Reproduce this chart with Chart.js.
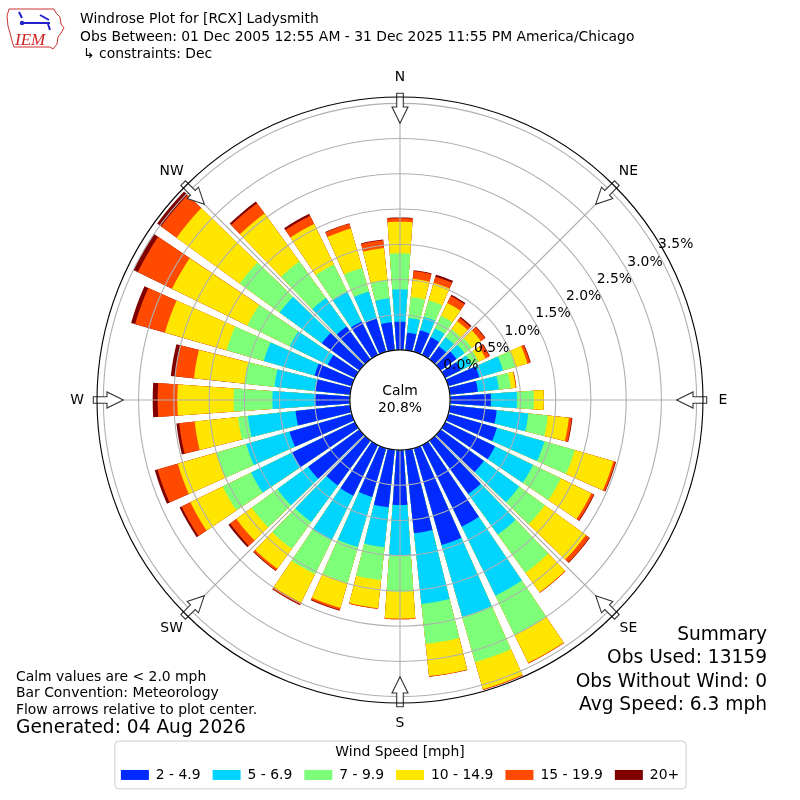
<!DOCTYPE html>
<html>
<head>
<meta charset="utf-8">
<title>Windrose Plot for [RCX] Ladysmith</title>
<script src="https://cdn.jsdelivr.net/npm/chart.js@4.4.1/dist/chart.umd.min.js"></script>
<style>
  html, body { margin: 0; padding: 0; background: #ffffff; }
  #myChart { display: block; }
</style>
</head>
<body>
<canvas id="myChart" width="800" height="800"></canvas>
<script>
// bar directions, degrees the wind blows from
const directions = [0, 10, 20, 30, 40, 50, 60, 70, 80, 90, 100, 110, 120, 130, 140, 150, 160, 170,
    180, 190, 200, 210, 220, 230, 240, 250, 260, 270, 280, 290, 300, 310, 320, 330, 340, 350];

const speedBins = ["2 - 4.9", "5 - 6.9", "7 - 9.9", "10 - 14.9", "15 - 19.9", "20+"];
const binColors = ["#002aff", "#00d4ff", "#7dff7a", "#ffe600", "#ff4a00", "#800000"];

// percent of observations per direction, one list per speed bin
const speed2to5 = [0.40, 0.25, 0.32, 0.28, 0.23, 0.28, 0.25, 0.46, 0.40, 0.58, 0.67, 0.72, 0.79, 0.76, 0.94, 1.29, 1.43, 1.19,
    0.78, 0.82, 0.72, 0.80, 0.79, 0.90, 0.99, 0.92, 0.78, 0.49, 0.50, 0.55, 0.43, 0.66, 0.58, 0.53, 0.49, 0.40];
const speed5to7 = [0.46, 0.21, 0.20, 0.14, 0.16, 0.14, 0.17, 0.35, 0.30, 0.37, 0.45, 0.70, 0.60, 0.62, 0.71, 1.09, 1.06, 1.01,
    0.71, 0.57, 0.74, 0.70, 0.64, 0.54, 0.65, 0.64, 0.68, 0.61, 0.58, 0.75, 0.60, 0.74, 0.50, 0.47, 0.40, 0.34];
const speed7to10 = [0.51, 0.30, 0.24, 0.20, 0.14, 0.13, 0.11, 0.18, 0.17, 0.24, 0.28, 0.45, 0.44, 0.45, 0.67, 0.62, 0.67, 0.57,
    0.52, 0.47, 0.53, 0.54, 0.47, 0.45, 0.45, 0.44, 0.14, 0.55, 0.43, 0.55, 0.67, 0.70, 0.64, 0.43, 0.35, 0.26];
const speed10to15 = [0.45, 0.26, 0.26, 0.20, 0.14, 0.16, 0.11, 0.18, 0.07, 0.14, 0.30, 0.57, 0.48, 0.72, 0.34, 0.44, 0.40, 0.46,
    0.38, 0.40, 0.37, 0.45, 0.35, 0.27, 0.51, 0.57, 0.62, 0.80, 0.72, 0.91, 1.19, 1.11, 0.84, 0.64, 0.58, 0.46];
const speed15to20 = [0.05, 0.11, 0.09, 0.11, 0.06, 0.07, 0.06, 0.04, 0.01, 0.00, 0.04, 0.03, 0.04, 0.06, 0.01, 0.01, 0.01, 0.01,
    0.01, 0.01, 0.03, 0.03, 0.03, 0.11, 0.14, 0.30, 0.22, 0.28, 0.27, 0.44, 0.54, 0.27, 0.18, 0.13, 0.07, 0.11];
const speed20plus = [0.01, 0.01, 0.03, 0.02, 0.02, 0.01, 0.01, 0.01, 0.00, 0.00, 0.01, 0.01, 0.01, 0.01, 0.00, 0.00, 0.00, 0.00,
    0.00, 0.00, 0.01, 0.01, 0.01, 0.03, 0.03, 0.04, 0.04, 0.07, 0.06, 0.06, 0.07, 0.07, 0.03, 0.03, 0.01, 0.01];

const calmPercent = 20.8;
const radialTicks = [0.0, 0.5, 1.0, 1.5, 2.0, 2.5, 3.0, 3.5];
const compassLabels = ["N", "NE", "E", "SE", "S", "SW", "W", "NW"];

const titleLines = [
    "Windrose Plot for [RCX] Ladysmith",
    "Obs Between: 01 Dec 2005 12:55 AM - 31 Dec 2025 11:55 PM America/Chicago",
    "\u21b3 constraints: Dec",
];
const noteLines = ["Calm values are < 2.0 mph", "Bar Convention: Meteorology", "Flow arrows relative to plot center."];
const generatedLine = "Generated: 04 Aug 2026";
const summaryLines = ["Summary", "Obs Used: 13159", "Obs Without Wind: 0", "Avg Speed: 6.3 mph"];

const FONT = "'DejaVu Sans', sans-serif";
Chart.defaults.font.family = FONT;
Chart.defaults.color = "#000";

// stack the bins: each dataset holds the running total, smaller totals drawn on top
const speedSeries = [speed2to5, speed5to7, speed7to10, speed10to15, speed15to20, speed20plus];
const cumulative = speedSeries.map((s, k) =>
    directions.map((d, i) => speedSeries.slice(0, k + 1).reduce((sum, arr) => sum + arr[i], 0)),
);

// arcs start at north: half of the N bar, then gap / bar pairs, closing with the other half
const barWidth = 8;
const gapWidth = 2;
const arcDir = [0];
const arcAngles = [barWidth / 2];
for (let i = 1; i < directions.length; i++) {
    arcDir.push(-1, i);
    arcAngles.push(gapWidth, barWidth);
}
arcDir.push(-1, 0);
arcAngles.push(gapWidth, barWidth / 2);

const datasets = speedBins.map((name, k) => ({
    label: name,
    data: arcDir.map((d) => (d < 0 ? 0 : cumulative[k][d])),
    backgroundColor: arcDir.map((d) => (d < 0 ? "rgba(0,0,0,0)" : binColors[k])),
    borderWidth: 0,
    angle: arcAngles,
}));

function drawLogo(ctx) {
    ctx.save();
    ctx.strokeStyle = "#cc3333";
    ctx.lineWidth = 1;
    const outline = [[9, 9], [54, 9], [56, 13], [60, 17], [61, 24], [64, 28], [61, 33], [58, 37],
        [57, 44], [53, 49], [50, 47], [14, 47], [12, 41], [10, 33], [8, 26], [7, 16]];
    ctx.beginPath();
    outline.forEach((p, i) => (i ? ctx.lineTo(p[0], p[1]) : ctx.moveTo(p[0], p[1])));
    ctx.closePath();
    ctx.stroke();
    ctx.fillStyle = "#cc2222";
    ctx.font = "italic 17px 'Liberation Serif', serif";
    ctx.textAlign = "left";
    ctx.textBaseline = "alphabetic";
    ctx.fillText("IEM", 15, 45);
    // little blue wind barb
    ctx.strokeStyle = "#2222cc";
    ctx.fillStyle = "#2222cc";
    ctx.lineWidth = 2;
    ctx.beginPath();
    ctx.moveTo(23, 23); ctx.lineTo(50, 23);
    ctx.moveTo(19, 12); ctx.lineTo(22, 18);
    ctx.moveTo(40, 15); ctx.lineTo(49, 20);
    ctx.moveTo(48, 24); ctx.lineTo(50, 30);
    ctx.stroke();
    ctx.beginPath();
    ctx.arc(22, 23, 2.2, 0, Math.PI * 2);
    ctx.fill();
    ctx.restore();
}

const windroseDecor = {
    id: "windroseDecor",
    afterDraw(chart) {
        const ctx = chart.ctx;
        const scale = chart.scales.r;
        const cx = scale.xCenter;
        const cy = scale.yCenter;
        const R = scale.drawingArea;
        const deg = Math.PI / 180;

        ctx.save();
        // calm hole in the middle
        const rc = scale.getDistanceFromCenterForValue(0);
        ctx.fillStyle = "#ffffff";
        ctx.strokeStyle = "#000000";
        ctx.lineWidth = 1.1;
        ctx.beginPath();
        ctx.arc(cx, cy, rc, 0, Math.PI * 2);
        ctx.fill();
        ctx.stroke();

        // flow arrows on the compass points
        compassLabels.forEach((lab, i) => {
            const a = scale.getIndexAngle(i) - Math.PI / 2;
            ctx.save();
            ctx.translate(cx, cy);
            ctx.rotate(a);
            ctx.beginPath();
            ctx.moveTo(R - 26.3, 0);
            ctx.lineTo(R - 10, -8);
            ctx.lineTo(R - 10, -3.3);
            ctx.lineTo(R + 3.7, -3.3);
            ctx.lineTo(R + 3.7, 3.3);
            ctx.lineTo(R - 10, 3.3);
            ctx.lineTo(R - 10, 8);
            ctx.closePath();
            ctx.fillStyle = "#ffffff";
            ctx.fill();
            ctx.strokeStyle = "#333333";
            ctx.lineWidth = 1.1;
            ctx.stroke();
            ctx.restore();
        });

        // outer frame
        ctx.strokeStyle = "#000000";
        ctx.lineWidth = 1.1;
        ctx.beginPath();
        ctx.arc(cx, cy, R, 0, Math.PI * 2);
        ctx.stroke();

        ctx.fillStyle = "#000000";
        ctx.font = "13.9px " + FONT;
        ctx.textAlign = "center";
        ctx.textBaseline = "middle";
        ctx.fillText("Calm", cx, cy - 9);
        ctx.fillText(calmPercent.toFixed(1) + "%", cx, cy + 8);

        // radial percent labels
        radialTicks.forEach((v) => {
            const p = scale.getPointPosition(0, scale.getDistanceFromCenterForValue(v) + 19.8, 60.6 * deg);
            ctx.fillText(v.toFixed(1) + "%", p.x, p.y);
        });

        compassLabels.forEach((lab, i) => {
            const p = scale.getPointPosition(i, R + 20);
            ctx.fillText(lab, p.x, p.y);
        });

        // header
        ctx.textAlign = "left";
        ctx.fillText(titleLines[0], 80, 19);
        ctx.fillText(titleLines[1], 80, 37);
        ctx.fillText(titleLines[2], 83, 54);
        drawLogo(ctx);

        // notes, bottom left
        ctx.fillStyle = "#000000";
        ctx.font = "13.9px " + FONT;
        ctx.textBaseline = "middle";
        noteLines.forEach((t, i) => ctx.fillText(t, 16, 677 + i * 16.7));
        ctx.font = "18.6px " + FONT;
        ctx.fillText(generatedLine, 16, 728.5);

        // summary, bottom right
        ctx.textAlign = "right";
        summaryLines.forEach((t, i) => ctx.fillText(t, 767, 635 + i * 23.5));

        // frame round the legend
        const lg = chart.legend;
        const hb = lg.legendHitBoxes;
        const last = hb[hb.length - 1];
        const x0 = hb[0].left - 6;
        const x1 = last.left + last.width + 7;
        const y0 = lg.top + 38;
        const y1 = lg.bottom - 3;
        ctx.strokeStyle = "#cccccc";
        ctx.lineWidth = 1;
        ctx.beginPath();
        ctx.roundRect(x0, y0, x1 - x0, y1 - y0, 4);
        ctx.stroke();
        ctx.restore();
    },
};

const ctx = document.getElementById("myChart").getContext("2d");
new Chart(ctx, {
    type: "polarArea",
    data: {
        labels: compassLabels,
        datasets: datasets,
    },
    options: {
        responsive: false,
        animation: false,
        layout: {
            padding: { top: 97, left: 97, right: 97, bottom: 8.1 },
        },
        scales: {
            r: {
                min: -0.711,
                max: 3.59,
                startAngle: 0,
                afterBuildTicks: (axis) => {
                    axis.ticks = radialTicks.map((v) => ({ value: v }));
                },
                ticks: { display: false },
                grid: { circular: true, color: "#b0b0b0", lineWidth: 1.1, z: 1 },
                angleLines: { display: true, color: "#b0b0b0", lineWidth: 1.1 },
                pointLabels: { display: false },
            },
        },
        plugins: {
            tooltip: { enabled: false },
            legend: {
                position: "bottom",
                title: {
                    display: true,
                    text: "Wind Speed [mph]",
                    color: "#000",
                    font: { size: 13.9, lineHeight: 1 },
                    padding: { top: 42.05, bottom: -3 },
                },
                labels: {
                    boxWidth: 28,
                    boxHeight: 10,
                    padding: 12,
                    color: "#000",
                    font: { size: 13.9 },
                    generateLabels: () =>
                        speedBins.map((t, i) => ({
                            text: t,
                            fillStyle: binColors[i],
                            strokeStyle: binColors[i],
                            lineWidth: 0,
                            hidden: false,
                            datasetIndex: i,
                        })),
                },
            },
        },
    },
    plugins: [windroseDecor],
});
</script>
</body>
</html>
